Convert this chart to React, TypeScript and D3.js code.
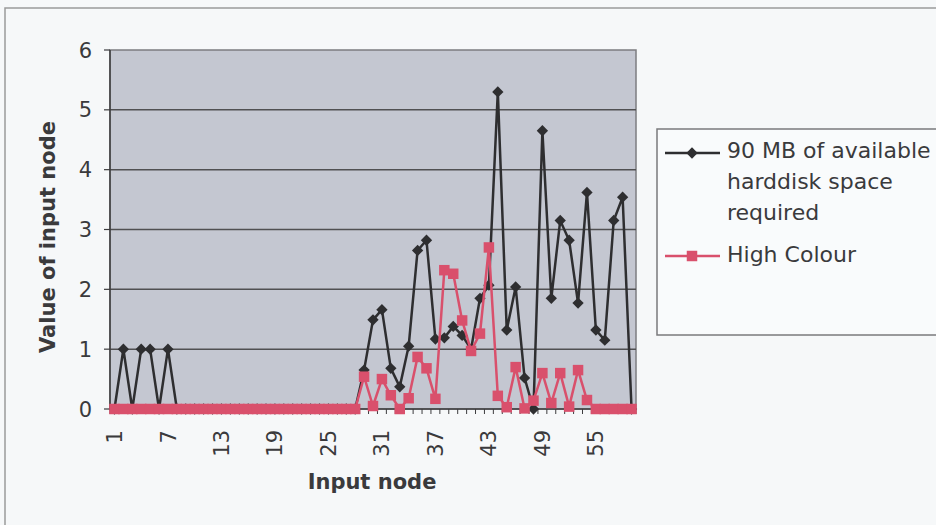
import * as d3 from "d3";

// chart size and plot box
const width = 936,
  height = 525;
const plot = { left: 110, right: 636, top: 50, bottom: 409 };

// categories 1..59 (input nodes)
const nodes = d3.range(1, 60);
// tick labels every 6th node
const xLabels = [1, 7, 13, 19, 25, 31, 37, 43, 49, 55];
const yTicks = [0, 1, 2, 3, 4, 5, 6];

// 90 MB of available harddisk space required
const diskSpace = [
  0, 1, 0, 1, 1, 0, 1, 0, 0, 0, 0, 0, 0, 0, 0, 0, 0, 0, 0, 0,
  0, 0, 0, 0, 0, 0, 0, 0, 0.65, 1.49, 1.66, 0.68, 0.37, 1.05, 2.65, 2.82, 1.17, 1.19, 1.38, 1.23,
  1.0, 1.85, 2.07, 5.3, 1.32, 2.04, 0.52, 0, 4.65, 1.85, 3.15, 2.82, 1.77, 3.62, 1.32, 1.15, 3.15, 3.54, 0,
];
// High Colour
const highColour = [
  0, 0, 0, 0, 0, 0, 0, 0, 0, 0, 0, 0, 0, 0, 0, 0, 0, 0, 0, 0,
  0, 0, 0, 0, 0, 0, 0, 0, 0.54, 0.05, 0.5, 0.23, 0, 0.18, 0.87, 0.68, 0.17, 2.32, 2.26, 1.48,
  0.97, 1.26, 2.7, 0.22, 0.03, 0.7, 0.01, 0.14, 0.6, 0.1, 0.6, 0.04, 0.65, 0.15, 0, 0, 0, 0, 0,
];

const blackCol = "#2e2e30";
const redCol = "#d9506c";
const font = "'DejaVu Sans', sans-serif";
const textCol = "#3a3a3c";

export default function App() {
  const x = d3.scaleBand<number>().domain(nodes).range([plot.left, plot.right]).padding(0);
  const bw = x.bandwidth();
  const cx = (n: number) => (x(n) as number) + bw / 2;
  const y = d3.scaleLinear().domain([0, 6]).range([plot.bottom, plot.top]);

  const line = d3
    .line<number>()
    .x((_, i) => cx(nodes[i]))
    .y((d) => y(d));

  const diamond = d3.symbol().type(d3.symbolSquare).size(64)();
  const square = d3.symbol().type(d3.symbolSquare).size(110)();

  // tick positions at category boundaries
  const boundaries = nodes.map((n) => x(n) as number).concat([plot.right]);

  return (
    <svg
      width={width}
      height={height}
      style={{ position: "absolute", left: 0, top: 0, background: "#f6f8f9" }}
      fontFamily={font}
    >
      {/* outer chart frame */}
      <rect x={5} y={8} width={width} height={height} fill="none" stroke="#9a9a9a" strokeWidth={1.5} />

      {/* plot area */}
      <rect
        x={plot.left}
        y={plot.top}
        width={plot.right - plot.left}
        height={plot.bottom - plot.top}
        fill="#c4c7d1"
        stroke="#7c7c80"
        strokeWidth={1.5}
      />
      {yTicks.slice(1, -1).map((t) => (
        <line key={t} x1={plot.left} x2={plot.right} y1={y(t)} y2={y(t)} stroke="#505052" strokeWidth={1.5} />
      ))}

      {/* y axis */}
      <line x1={plot.left} x2={plot.left} y1={plot.top} y2={plot.bottom} stroke="#3c3c3e" strokeWidth={1.5} />
      {yTicks.map((t) => (
        <g key={t}>
          <line x1={plot.left - 6} x2={plot.left} y1={y(t)} y2={y(t)} stroke="#3c3c3e" strokeWidth={1.2} />
          <text x={92} y={y(t)} dy="0.36em" textAnchor="end" fontSize={21} fill={textCol}>
            {t}
          </text>
        </g>
      ))}

      {/* x axis */}
      <line x1={plot.left} x2={plot.right} y1={plot.bottom} y2={plot.bottom} stroke="#3c3c3e" strokeWidth={1.5} />
      {boundaries.map((b, i) => (
        <line key={i} x1={b} x2={b} y1={plot.bottom} y2={plot.bottom + 5} stroke="#3c3c3e" strokeWidth={1} />
      ))}
      {xLabels.map((n) => (
        <text
          key={n}
          transform={`translate(${cx(n)},${plot.bottom + 21}) rotate(-90)`}
          textAnchor="end"
          dy="0.36em"
          fontSize={21}
          fill={textCol}
        >
          {n}
        </text>
      ))}

      {/* series: black first, red on top */}
      <path d={line(diskSpace) || ""} fill="none" stroke={blackCol} strokeWidth={2.5} />
      {diskSpace.map((v, i) => (
        <path key={i} d={diamond || ""} transform={`translate(${cx(nodes[i])},${y(v)}) rotate(45)`} fill={blackCol} />
      ))}
      <path d={line(highColour) || ""} fill="none" stroke={redCol} strokeWidth={2.5} />
      {highColour.map((v, i) => (
        <path key={i} d={square || ""} transform={`translate(${cx(nodes[i])},${y(v)})`} fill={redCol} />
      ))}

      {/* axis titles */}
      <text x={372} y={489} textAnchor="middle" fontSize={21} fontWeight="bold" fill={textCol}>
        Input node
      </text>
      <text transform="translate(55,237) rotate(-90)" textAnchor="middle" fontSize={21} fontWeight="bold" fill={textCol}>
        Value of input node
      </text>

      {/* legend */}
      <rect x={657} y={129} width={300} height={206} fill="#f9fbfc" stroke="#7a7a7c" strokeWidth={1.5} />
      <line x1={665} x2={720} y1={153} y2={153} stroke={blackCol} strokeWidth={2.5} />
      <path d={diamond || ""} transform="translate(692,153) rotate(45)" fill={blackCol} />
      <text fontSize={22} fill={textCol}>
        <tspan x={727} y={158}>90 MB of available</tspan>
        <tspan x={727} y={189}>harddisk space</tspan>
        <tspan x={727} y={220}>required</tspan>
      </text>
      <line x1={665} x2={720} y1={256} y2={256} stroke={redCol} strokeWidth={2.5} />
      <path d={square || ""} transform="translate(692,256)" fill={redCol} />
      <text x={727} y={262} fontSize={22} fill={textCol}>
        High Colour
      </text>
    </svg>
  );
}
